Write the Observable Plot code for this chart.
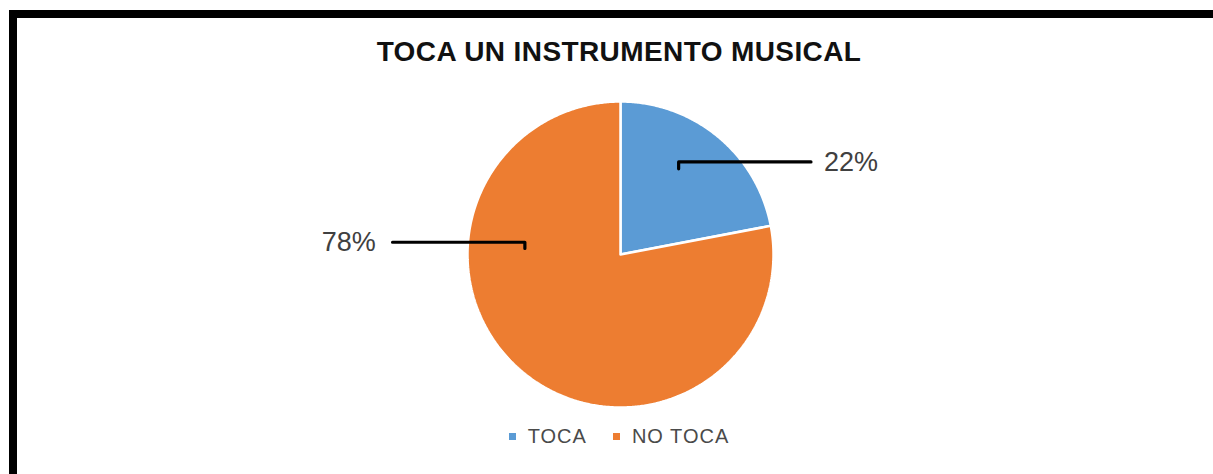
<!DOCTYPE html>
<html><head><meta charset="utf-8">
<script src="https://cdn.jsdelivr.net/npm/d3@7"></script>
<script src="https://cdn.jsdelivr.net/npm/@observablehq/plot@0.6"></script>
<style>
html,body{margin:0;padding:0;background:#fff;}
body{font-family:"Liberation Sans",Arial,sans-serif;}
#wrap{position:relative;width:1213px;height:474px;overflow:hidden;background:#fff;}
#frame{position:absolute;left:9px;top:10px;width:1300px;height:600px;border-top:8px solid #000;border-left:8px solid #000;box-sizing:border-box;pointer-events:none;}
#title{position:absolute;left:0;width:1238px;top:36px;text-align:center;font-weight:bold;font-size:28px;letter-spacing:0.4px;line-height:32px;color:#111;transform:scaleY(1.02);}
#legend{position:absolute;left:0;top:425px;width:1238px;display:flex;justify-content:center;align-items:center;font-size:20px;color:#4a4a4a;letter-spacing:1px;}
.sw{display:inline-block;width:7px;height:7px;margin-right:12px;}
.item{display:flex;align-items:center;margin:0 13px;}
#chart{position:absolute;left:0;top:0;}
</style>
</head><body>
<div id="wrap"><div id="chart"></div><div id="frame"></div><div id="title"></div><div id="legend"></div></div>
<script>
// ---- data ----
const title = "TOCA UN INSTRUMENTO MUSICAL";
const categories = ["TOCA", "NO TOCA"];
const values = [22, 78];
const percentLabels = ["22%", "78%"];
const colors = ["#5B9BD5", "#ED7D31"];

// ---- layout (unit = pie radius) ----
const radiusPx = 153, cx = 620, cy = 254, W = 1213, H = 474;
const leaderLayout = [
  {cat: "TOCA", pts: [[0.38, 0.56], [0.38, 0.605], [1.245, 0.605]], text: [1.33, 0.605], anchor: "start"},
  {cat: "NO TOCA", pts: [[-0.625, 0.04], [-0.625, 0.08], [-1.49, 0.08]], text: [-1.6, 0.08], anchor: "end"}
];

// slice polygons from d3.pie angles
const pie = d3.pie().sort(null).value((d, i) => values[i])(categories);
const slicePts = [];
pie.forEach((p, i) => {
  const cat = categories[i];
  slicePts.push({cat, x: 0, y: 0});
  const n = Math.max(2, Math.ceil((p.endAngle - p.startAngle) / (Math.PI / 360)));
  for (let k = 0; k <= n; k++) {
    const a = p.startAngle + (p.endAngle - p.startAngle) * k / n;
    slicePts.push({cat, x: Math.sin(a), y: Math.cos(a)});
  }
  slicePts.push({cat, x: 0, y: 0});
});

const leaderPts = leaderLayout.flatMap(l => l.pts.map(([x, y]) => ({cat: l.cat, x, y})));
const labelData = leaderLayout.map((l, i) => ({cat: l.cat, x: l.text[0], y: l.text[1], label: percentLabels[categories.indexOf(l.cat)], anchor: l.anchor}));

const plot = Plot.plot({
  width: W, height: H, margin: 0,
  x: {domain: [-cx / radiusPx, (W - cx) / radiusPx], axis: null},
  y: {domain: [-(H - cy) / radiusPx, cy / radiusPx], axis: null},
  color: {domain: categories, range: colors},
  style: {background: "transparent", fontFamily: "Liberation Sans, Arial, sans-serif"},
  marks: [
    Plot.line(slicePts, {x: "x", y: "y", z: "cat", fill: "cat", stroke: "white", strokeWidth: 2.5, strokeLinejoin: "miter"}),
    Plot.line(leaderPts, {x: "x", y: "y", z: "cat", stroke: "#000", strokeWidth: 3.2, strokeLinejoin: "round", strokeLinecap: "round"}),
    Plot.text(labelData.filter(d => d.anchor === "start"), {x: "x", y: "y", text: "label", textAnchor: "start", fontSize: 27, fill: "#404040"}),
    Plot.text(labelData.filter(d => d.anchor === "end"), {x: "x", y: "y", text: "label", textAnchor: "end", fontSize: 27, fill: "#404040"})
  ]
});
document.getElementById("chart").appendChild(plot);
document.getElementById("title").textContent = title;
const leg = document.getElementById("legend");
categories.forEach((c, i) => {
  const it = document.createElement("div"); it.className = "item";
  const sw = document.createElement("span"); sw.className = "sw"; sw.style.background = colors[i];
  const t = document.createElement("span"); t.textContent = c;
  it.appendChild(sw); it.appendChild(t); leg.appendChild(it);
});
</script>
</body></html>
